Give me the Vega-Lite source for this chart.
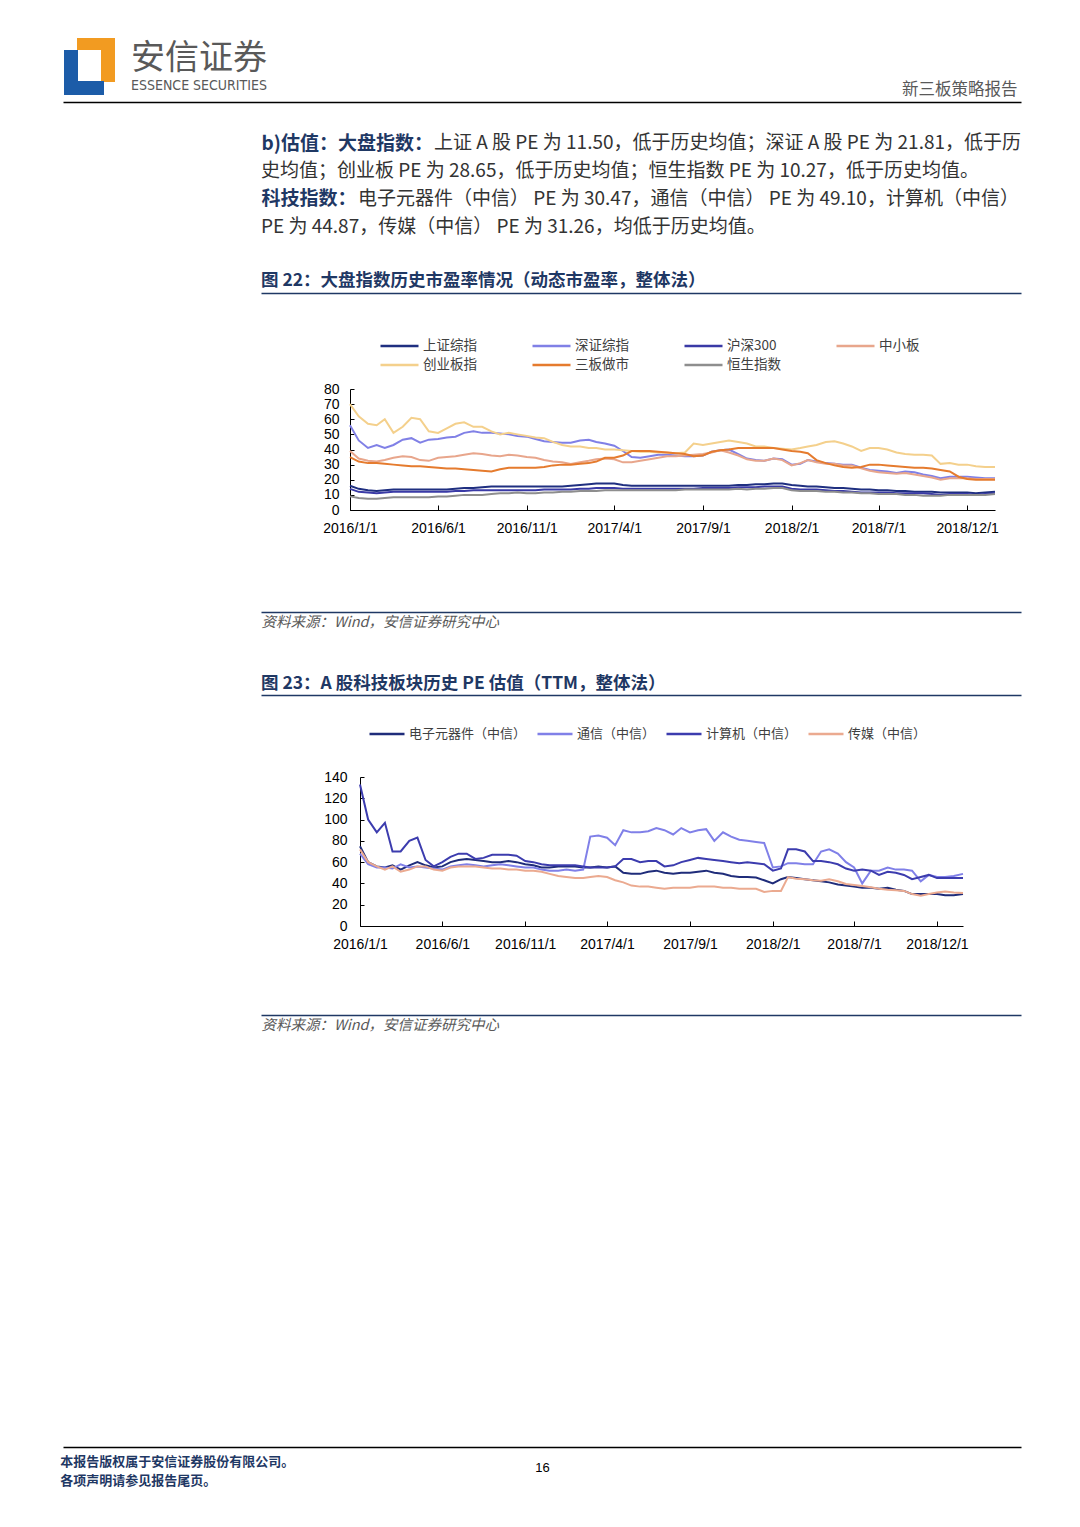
{
"$schema": "https://vega.github.io/schema/vega-lite/v6.json",
"background": "white",
"padding": {"left": 60, "top": 38, "right": 0, "bottom": 0},
"spacing": 0,
"bounds": "flush",
"resolve": {"scale": {"color": "independent"}, "legend": {"color": "independent"}},
"config": {"view": {"stroke": null}, "font": "Noto Sans CJK SC", "axis": {"grid": false}},
"datasets": {
"logo": [
{"c":"o","x0":14,"x1":52,"y0":0,"y1":12},
{"c":"o","x0":38,"x1":52,"y0":0,"y1":44},
{"c":"b","x0":1,"x1":15,"y0":12,"y1":57},
{"c":"b","x0":1,"x1":41,"y0":43,"y1":57}
],
"idx": [
{"d":"2016-01-01","上证综指":16,"深证综指":56,"沪深300":14,"中小板":39,"创业板指":70,"三板做市":35,"恒生指数":9},
{"d":"2016-01-16","上证综指":14,"深证综指":46,"沪深300":12,"中小板":34,"创业板指":62,"三板做市":32,"恒生指数":8},
{"d":"2016-02-01","上证综指":13,"深证综指":41,"沪深300":11.5,"中小板":32.5,"创业板指":57,"三板做市":31,"恒生指数":7.5},
{"d":"2016-02-16","上证综指":12.5,"深证综指":43,"沪深300":11,"中小板":32,"创业板指":56,"三板做市":31,"恒生指数":7.5},
{"d":"2016-03-01","上证综指":13,"深证综指":41,"沪深300":11.5,"中小板":33,"创业板指":60,"三板做市":30.5,"恒生指数":8},
{"d":"2016-03-16","上证综指":13.5,"深证综指":43,"沪深300":12,"中小板":34.5,"创业板指":51,"三板做市":30,"恒生指数":8.5},
{"d":"2016-04-01","上证综指":13.5,"深证综指":46.5,"沪深300":12,"中小板":35.5,"创业板指":55,"三板做市":29.5,"恒生指数":8.5},
{"d":"2016-04-16","上证综指":13.5,"深证综指":47.5,"沪深300":12,"中小板":35,"创业板指":61,"三板做市":29,"恒生指数":8.5},
{"d":"2016-05-01","上证综指":13.5,"深证综指":44.5,"沪深300":12,"中小板":33,"创业板指":60,"三板做市":29,"恒生指数":8.5},
{"d":"2016-05-16","上证综指":13.5,"深证综指":46.5,"沪深300":12,"中小板":32.5,"创业板指":52,"三板做市":28.5,"恒生指数":8.5},
{"d":"2016-06-01","上证综指":13.5,"深证综指":47,"沪深300":12,"中小板":34.5,"创业板指":51,"三板做市":28,"恒生指数":9},
{"d":"2016-06-16","上证综指":13.5,"深证综指":48,"沪深300":12,"中小板":35,"创业板指":54,"三板做市":27.5,"恒生指数":9},
{"d":"2016-07-01","上证综指":14,"深证综指":48.5,"沪深300":12.5,"中小板":35.5,"创业板指":57,"三板做市":27.5,"恒生指数":9.5},
{"d":"2016-07-16","上证综指":14.5,"深证综指":51,"沪深300":12.5,"中小板":36.5,"创业板指":58,"三板做市":27,"恒生指数":10},
{"d":"2016-08-01","上证综指":14.5,"深证综指":52,"沪深300":13,"中小板":37.5,"创业板指":55,"三板做市":26.5,"恒生指数":10},
{"d":"2016-08-16","上证综指":15,"深证综指":51,"沪深300":13,"中小板":37,"创业板指":55,"三板做市":26,"恒生指数":10},
{"d":"2016-09-01","上证综指":15.5,"深证综指":51,"沪深300":13,"中小板":36,"创业板指":52,"三板做市":25.5,"恒生指数":10.5},
{"d":"2016-09-16","上证综指":15.5,"深证综指":50.5,"沪深300":13,"中小板":35.5,"创业板指":50,"三板做市":27,"恒生指数":11},
{"d":"2016-10-01","上证综指":15.5,"深证综指":50,"沪深300":13,"中小板":36.5,"创业板指":51,"三板做市":28,"恒生指数":11},
{"d":"2016-10-16","上证综指":15.5,"深证综指":49,"沪深300":13,"中小板":36,"创业板指":50,"三板做市":28,"恒生指数":11.5},
{"d":"2016-11-01","上证综指":15.5,"深证综指":48.5,"沪深300":13,"中小板":35,"创业板指":49,"三板做市":28,"恒生指数":11},
{"d":"2016-11-16","上证综指":15.5,"深证综指":47,"沪深300":13,"中小板":34.5,"创业板指":48,"三板做市":28,"恒生指数":11},
{"d":"2016-12-01","上证综指":15.5,"深证综指":45.5,"沪深300":13.5,"中小板":33,"创业板指":47.5,"三板做市":28.5,"恒生指数":11.5},
{"d":"2016-12-16","上证综指":15.5,"深证综指":45,"沪深300":13.5,"中小板":32,"创业板指":45,"三板做市":29.5,"恒生指数":11.5},
{"d":"2017-01-01","上证综指":15.5,"深证综指":44.5,"沪深300":13.5,"中小板":31.5,"创业板指":43,"三板做市":30,"恒生指数":12},
{"d":"2017-01-16","上证综指":16,"深证综指":44.5,"沪深300":13.5,"中小板":30.5,"创业板指":42,"三板做市":30,"恒生指数":12},
{"d":"2017-02-01","上证综指":16.5,"深证综指":46,"沪深300":14,"中小板":31.5,"创业板指":42,"三板做市":30.5,"恒生指数":12.5},
{"d":"2017-02-16","上证综指":17,"深证综指":46.5,"沪深300":14,"中小板":32.5,"创业板指":41,"三板做市":31,"恒生指数":12.5},
{"d":"2017-03-01","上证综指":17.5,"深证综指":45,"沪深300":14.5,"中小板":33.5,"创业板指":41,"三板做市":32,"恒生指数":12.5},
{"d":"2017-03-16","上证综指":17.5,"深证综指":44,"沪深300":14.5,"中小板":34,"创业板指":40,"三板做市":34.5,"恒生指数":13},
{"d":"2017-04-01","上证综指":17.5,"深证综指":42.5,"沪深300":14.5,"中小板":33.5,"创业板指":40,"三板做市":34.5,"恒生指数":13},
{"d":"2017-04-16","上证综指":16.5,"深证综指":39,"沪深300":14,"中小板":31.5,"创业板指":39.5,"三板做市":36,"恒生指数":13},
{"d":"2017-05-01","上证综指":16,"深证综指":35,"沪深300":14,"中小板":31.5,"创业板指":39,"三板做市":39,"恒生指数":13},
{"d":"2017-05-16","上证综指":16,"深证综指":34.5,"沪深300":14,"中小板":32.5,"创业板指":38.5,"三板做市":39,"恒生指数":13},
{"d":"2017-06-01","上证综指":16,"深证综指":35.5,"沪深300":14,"中小板":33.5,"创业板指":38.5,"三板做市":39,"恒生指数":13},
{"d":"2017-06-16","上证综指":16,"深证综指":36.5,"沪深300":14,"中小板":34.5,"创业板指":38,"三板做市":38.5,"恒生指数":13},
{"d":"2017-07-01","上证综指":16,"深证综指":36.5,"沪深300":14,"中小板":35.5,"创业板指":38,"三板做市":38,"恒生指数":13},
{"d":"2017-07-16","上证综指":16,"深证综指":36,"沪深300":14,"中小板":35.5,"创业板指":37.5,"三板做市":37.5,"恒生指数":13},
{"d":"2017-08-01","上证综指":16,"深证综指":35.5,"沪深300":14,"中小板":36,"创业板指":38,"三板做市":37,"恒生指数":13.5},
{"d":"2017-08-16","上证综指":16,"深证综指":35.5,"沪深300":14,"中小板":36.5,"创业板指":44,"三板做市":35.5,"恒生指数":13.5},
{"d":"2017-09-01","上证综指":16,"深证综指":36,"沪深300":14.5,"中小板":37,"创业板指":43,"三板做市":36,"恒生指数":13.5},
{"d":"2017-09-16","上证综指":16,"深证综指":38.5,"沪深300":14.5,"中小板":38,"创业板指":44,"三板做市":38.5,"恒生指数":13.5},
{"d":"2017-10-01","上证综指":16,"深证综指":39.5,"沪深300":14.5,"中小板":39.5,"创业板指":45,"三板做市":39.5,"恒生指数":13.5},
{"d":"2017-10-16","上证综指":16,"深证综指":40,"沪深300":14.5,"中小板":38,"创业板指":46,"三板做市":40,"恒生指数":13.5},
{"d":"2017-11-01","上证综指":16.5,"深证综指":37,"沪深300":15,"中小板":36,"创业板指":45,"三板做市":41,"恒生指数":14},
{"d":"2017-11-16","上证综指":16.5,"深证综指":34,"沪深300":15,"中小板":33.5,"创业板指":44,"三板做市":41,"恒生指数":13.5},
{"d":"2017-12-01","上证综指":17,"深证综指":33,"沪深300":15,"中小板":32.5,"创业板指":42,"三板做市":41,"恒生指数":14},
{"d":"2017-12-16","上证综指":17,"深证综指":32.5,"沪深300":15.5,"中小板":32.5,"创业板指":42,"三板做市":41,"恒生指数":14},
{"d":"2018-01-01","上证综指":17.5,"深证综指":34,"沪深300":15.5,"中小板":34,"创业板指":41,"三板做市":41,"恒生指数":14.5},
{"d":"2018-01-16","上证综指":17.5,"深证综指":33.5,"沪深300":15.5,"中小板":33,"创业板指":40.5,"三板做市":40,"恒生指数":14.5},
{"d":"2018-02-01","上证综指":16.5,"深证综指":30,"沪深300":14,"中小板":29.5,"创业板指":40,"三板做市":39,"恒生指数":13},
{"d":"2018-02-16","上证综指":16,"深证综指":30.5,"沪深300":13.5,"中小板":31,"创业板指":41,"三板做市":38.5,"恒生指数":12.5},
{"d":"2018-03-01","上证综指":15.5,"深证综指":33,"沪深300":13.5,"中小板":33,"创业板指":42,"三板做市":37.5,"恒生指数":12.5},
{"d":"2018-03-16","上证综指":15.5,"深证综指":32,"沪深300":13.5,"中小板":31.5,"创业板指":43,"三板做市":33,"恒生指数":12.5},
{"d":"2018-04-01","上证综指":15,"深证综指":31,"沪深300":13,"中小板":30.5,"创业板指":45,"三板做市":31,"恒生指数":12},
{"d":"2018-04-16","上证综指":14.5,"深证综指":30.5,"沪深300":12.5,"中小板":30.5,"创业板指":45.5,"三板做市":29.5,"恒生指数":12},
{"d":"2018-05-01","上证综指":14.5,"深证综指":30,"沪深300":12.5,"中小板":29.5,"创业板指":44,"三板做市":28.5,"恒生指数":11.5},
{"d":"2018-05-16","上证综指":14,"深证综指":30,"沪深300":12,"中小板":29.5,"创业板指":42,"三板做市":28,"恒生指数":11.5},
{"d":"2018-06-01","上证综指":13.5,"深证综指":28,"沪深300":11.5,"中小板":27.5,"创业板指":39,"三板做市":28.5,"恒生指数":11},
{"d":"2018-06-16","上证综指":13.5,"深证综指":26.5,"沪深300":11.5,"中小板":26,"创业板指":41,"三板做市":30,"恒生指数":11},
{"d":"2018-07-01","上证综指":13,"深证综指":26,"沪深300":11.5,"中小板":25,"创业板指":41,"三板做市":30,"恒生指数":10.5},
{"d":"2018-07-16","上证综指":13,"深证综指":25.5,"沪深300":11.5,"中小板":24.5,"创业板指":40,"三板做市":29.5,"恒生指数":10.5},
{"d":"2018-08-01","上证综指":12.5,"深证综指":24.5,"沪深300":11,"中小板":24,"创业板指":38,"三板做市":29,"恒生指数":10.5},
{"d":"2018-08-16","上证综指":12.5,"深证综指":25.5,"沪深300":11,"中小板":24.5,"创业板指":37,"三板做市":28.5,"恒生指数":10},
{"d":"2018-09-01","上证综指":12,"深证综指":25,"沪深300":11,"中小板":23.5,"创业板指":36.5,"三板做市":28,"恒生指数":10},
{"d":"2018-09-16","上证综指":12,"深证综指":23.5,"沪深300":11,"中小板":22.5,"创业板指":36.5,"三板做市":28,"恒生指数":9.5},
{"d":"2018-10-01","上证综指":12,"深证综指":22.5,"沪深300":10.5,"中小板":21.5,"创业板指":36,"三板做市":27.5,"恒生指数":9.5},
{"d":"2018-10-16","上证综指":11.5,"深证综指":21,"沪深300":10,"中小板":20,"创业板指":30.5,"三板做市":26.5,"恒生指数":9.5},
{"d":"2018-11-01","上证综指":11.5,"深证综指":22,"沪深300":10.5,"中小板":21,"创业板指":31,"三板做市":25.5,"恒生指数":10},
{"d":"2018-11-16","上证综指":11.5,"深证综指":22,"沪深300":10.5,"中小板":21,"创业板指":30,"三板做市":22,"恒生指数":10},
{"d":"2018-12-01","上证综指":11.5,"深证综指":22,"沪深300":10.5,"中小板":21,"创业板指":30,"三板做市":20.5,"恒生指数":10},
{"d":"2018-12-16","上证综指":11,"深证综指":21.5,"沪深300":10,"中小板":20.5,"创业板指":29,"三板做市":20,"恒生指数":10},
{"d":"2019-01-01","上证综指":11.5,"深证综指":21,"沪深300":10.5,"中小板":20.5,"创业板指":28.5,"三板做市":20,"恒生指数":10},
{"d":"2019-01-18","上证综指":12,"深证综指":21,"沪深300":11,"中小板":20.5,"创业板指":28.5,"三板做市":20,"恒生指数":10.5}
],
"tech": [
{"d":"2016-01-01","电子元器件（中信）":75,"通信（中信）":68,"计算机（中信）":133,"传媒（中信）":72},
{"d":"2016-01-16","电子元器件（中信）":60,"通信（中信）":58,"计算机（中信）":100,"传媒（中信）":60},
{"d":"2016-02-01","电子元器件（中信）":56,"通信（中信）":55,"计算机（中信）":88,"传媒（中信）":56},
{"d":"2016-02-16","电子元器件（中信）":55,"通信（中信）":55,"计算机（中信）":97,"传媒（中信）":53},
{"d":"2016-03-01","电子元器件（中信）":57,"通信（中信）":54,"计算机（中信）":70,"传媒（中信）":56},
{"d":"2016-03-16","电子元器件（中信）":53,"通信（中信）":58,"计算机（中信）":70,"传媒（中信）":51},
{"d":"2016-04-01","电子元器件（中信）":57,"通信（中信）":55,"计算机（中信）":80,"传媒（中信）":53},
{"d":"2016-04-16","电子元器件（中信）":60,"通信（中信）":56,"计算机（中信）":83,"传媒（中信）":56},
{"d":"2016-05-01","电子元器件（中信）":57,"通信（中信）":55,"计算机（中信）":62,"传媒（中信）":56},
{"d":"2016-05-16","电子元器件（中信）":55,"通信（中信）":54,"计算机（中信）":56,"传媒（中信）":53},
{"d":"2016-06-01","电子元器件（中信）":56,"通信（中信）":53,"计算机（中信）":60,"传媒（中信）":52},
{"d":"2016-06-16","电子元器件（中信）":60,"通信（中信）":56,"计算机（中信）":65,"传媒（中信）":55},
{"d":"2016-07-01","电子元器件（中信）":62,"通信（中信）":57,"计算机（中信）":68,"传媒（中信）":56},
{"d":"2016-07-16","电子元器件（中信）":63,"通信（中信）":58,"计算机（中信）":68,"传媒（中信）":56},
{"d":"2016-08-01","电子元器件（中信）":62,"通信（中信）":57,"计算机（中信）":63,"传媒（中信）":56},
{"d":"2016-08-16","电子元器件（中信）":61,"通信（中信）":56,"计算机（中信）":64,"传媒（中信）":55},
{"d":"2016-09-01","电子元器件（中信）":60,"通信（中信）":57,"计算机（中信）":67,"传媒（中信）":54},
{"d":"2016-09-16","电子元器件（中信）":60,"通信（中信）":58,"计算机（中信）":67,"传媒（中信）":54},
{"d":"2016-10-01","电子元器件（中信）":61,"通信（中信）":57,"计算机（中信）":67,"传媒（中信）":53},
{"d":"2016-10-16","电子元器件（中信）":60,"通信（中信）":56,"计算机（中信）":66,"传媒（中信）":53},
{"d":"2016-11-01","电子元器件（中信）":58,"通信（中信）":55,"计算机（中信）":61,"传媒（中信）":52},
{"d":"2016-11-16","电子元器件（中信）":57,"通信（中信）":55,"计算机（中信）":60,"传媒（中信）":52},
{"d":"2016-12-01","电子元器件（中信）":55,"通信（中信）":53,"计算机（中信）":58,"传媒（中信）":51},
{"d":"2016-12-16","电子元器件（中信）":55,"通信（中信）":52,"计算机（中信）":57,"传媒（中信）":49},
{"d":"2017-01-01","电子元器件（中信）":56,"通信（中信）":52,"计算机（中信）":57,"传媒（中信）":47},
{"d":"2017-01-16","电子元器件（中信）":56,"通信（中信）":53,"计算机（中信）":57,"传媒（中信）":46},
{"d":"2017-02-01","电子元器件（中信）":56,"通信（中信）":52,"计算机（中信）":57,"传媒（中信）":45},
{"d":"2017-02-16","电子元器件（中信）":55,"通信（中信）":53,"计算机（中信）":56,"传媒（中信）":45},
{"d":"2017-03-01","电子元器件（中信）":55,"通信（中信）":84,"计算机（中信）":55,"传媒（中信）":46},
{"d":"2017-03-16","电子元器件（中信）":56,"通信（中信）":85,"计算机（中信）":55,"传媒（中信）":47},
{"d":"2017-04-01","电子元器件（中信）":55,"通信（中信）":83,"计算机（中信）":55,"传媒（中信）":46},
{"d":"2017-04-16","电子元器件（中信）":56,"通信（中信）":76,"计算机（中信）":56,"传媒（中信）":43},
{"d":"2017-05-01","电子元器件（中信）":50,"通信（中信）":90,"计算机（中信）":63,"传媒（中信）":41},
{"d":"2017-05-16","电子元器件（中信）":49,"通信（中信）":88,"计算机（中信）":63,"传媒（中信）":38},
{"d":"2017-06-01","电子元器件（中信）":49,"通信（中信）":88,"计算机（中信）":60,"传媒（中信）":37},
{"d":"2017-06-16","电子元器件（中信）":51,"通信（中信）":89,"计算机（中信）":61,"传媒（中信）":37},
{"d":"2017-07-01","电子元器件（中信）":52,"通信（中信）":92,"计算机（中信）":61,"传媒（中信）":36},
{"d":"2017-07-16","电子元器件（中信）":50,"通信（中信）":90,"计算机（中信）":56,"传媒（中信）":35},
{"d":"2017-08-01","电子元器件（中信）":49,"通信（中信）":86,"计算机（中信）":57,"传媒（中信）":36},
{"d":"2017-08-16","电子元器件（中信）":50,"通信（中信）":92,"计算机（中信）":60,"传媒（中信）":36},
{"d":"2017-09-01","电子元器件（中信）":50,"通信（中信）":88,"计算机（中信）":62,"传媒（中信）":36},
{"d":"2017-09-16","电子元器件（中信）":51,"通信（中信）":90,"计算机（中信）":64,"传媒（中信）":37},
{"d":"2017-10-01","电子元器件（中信）":52,"通信（中信）":91,"计算机（中信）":63,"传媒（中信）":37},
{"d":"2017-10-16","电子元器件（中信）":50,"通信（中信）":80,"计算机（中信）":62,"传媒（中信）":37},
{"d":"2017-11-01","电子元器件（中信）":49,"通信（中信）":88,"计算机（中信）":61,"传媒（中信）":36},
{"d":"2017-11-16","电子元器件（中信）":47,"通信（中信）":84,"计算机（中信）":60,"传媒（中信）":36},
{"d":"2017-12-01","电子元器件（中信）":46,"通信（中信）":81,"计算机（中信）":59,"传媒（中信）":35},
{"d":"2017-12-16","电子元器件（中信）":46,"通信（中信）":80,"计算机（中信）":60,"传媒（中信）":35},
{"d":"2018-01-01","电子元器件（中信）":45.5,"通信（中信）":79,"计算机（中信）":59,"传媒（中信）":35},
{"d":"2018-01-16","电子元器件（中信）":43,"通信（中信）":78,"计算机（中信）":58,"传媒（中信）":32},
{"d":"2018-02-01","电子元器件（中信）":40,"通信（中信）":55,"计算机（中信）":52,"传媒（中信）":33},
{"d":"2018-02-16","电子元器件（中信）":44,"通信（中信）":56,"计算机（中信）":54,"传媒（中信）":33},
{"d":"2018-03-01","电子元器件（中信）":46,"通信（中信）":59,"计算机（中信）":72,"传媒（中信）":46},
{"d":"2018-03-16","电子元器件（中信）":45,"通信（中信）":59,"计算机（中信）":72,"传媒（中信）":44.5},
{"d":"2018-04-01","电子元器件（中信）":44,"通信（中信）":58,"计算机（中信）":70,"传媒（中信）":44},
{"d":"2018-04-16","电子元器件（中信）":43,"通信（中信）":58,"计算机（中信）":61,"传媒（中信）":43},
{"d":"2018-05-01","电子元器件（中信）":42,"通信（中信）":70,"计算机（中信）":61,"传媒（中信）":42.5},
{"d":"2018-05-16","电子元器件（中信）":41,"通信（中信）":72,"计算机（中信）":60,"传媒（中信）":44},
{"d":"2018-06-01","电子元器件（中信）":39,"通信（中信）":68,"计算机（中信）":58,"传媒（中信）":42},
{"d":"2018-06-16","电子元器件（中信）":38,"通信（中信）":60,"计算机（中信）":54,"传媒（中信）":39.5},
{"d":"2018-07-01","电子元器件（中信）":37,"通信（中信）":55,"计算机（中信）":52,"传媒（中信）":38.5},
{"d":"2018-07-16","电子元器件（中信）":36,"通信（中信）":40,"计算机（中信）":53,"传媒（中信）":37.5},
{"d":"2018-08-01","电子元器件（中信）":36,"通信（中信）":52,"计算机（中信）":52,"传媒（中信）":36.5},
{"d":"2018-08-16","电子元器件（中信）":35,"通信（中信）":52,"计算机（中信）":48,"传媒（中信）":35},
{"d":"2018-09-01","电子元器件（中信）":36,"通信（中信）":55,"计算机（中信）":51,"传媒（中信）":34},
{"d":"2018-09-16","电子元器件（中信）":34,"通信（中信）":53,"计算机（中信）":50,"传媒（中信）":33.5},
{"d":"2018-10-01","电子元器件（中信）":33,"通信（中信）":53,"计算机（中信）":48,"传媒（中信）":33},
{"d":"2018-10-16","电子元器件（中信）":30,"通信（中信）":52,"计算机（中信）":44,"传媒（中信）":30},
{"d":"2018-11-01","电子元器件（中信）":30,"通信（中信）":42,"计算机（中信）":46,"传媒（中信）":28.5},
{"d":"2018-11-16","电子元器件（中信）":30,"通信（中信）":48,"计算机（中信）":48,"传媒（中信）":30},
{"d":"2018-12-01","电子元器件（中信）":30,"通信（中信）":46,"计算机（中信）":45,"传媒（中信）":31.5},
{"d":"2018-12-16","电子元器件（中信）":29,"通信（中信）":46,"计算机（中信）":45,"传媒（中信）":32.5},
{"d":"2019-01-01","电子元器件（中信）":29,"通信（中信）":47,"计算机（中信）":45,"传媒（中信）":31.5},
{"d":"2019-01-18","电子元器件（中信）":30,"通信（中信）":49,"计算机（中信）":45,"传媒（中信）":31}
]
},
"vconcat": [
{
"width": 958, "height": 64,
"data": {"name": "logo"},
"title": {"text": "安信证券", "subtitle": "ESSENCE SECURITIES", "anchor": "start", "dx": 68, "offset": -55, "fontSize": 34, "fontWeight": "normal", "color": "#595959", "font": "Noto Sans CJK SC", "subtitleFont": "DejaVu Sans Condensed, Liberation Sans", "subtitleFontSize": 14, "subtitleColor": "#595959", "subtitlePadding": 3},
"mark": {"type": "rect"},
"encoding": {
"x": {"field": "x0", "type": "quantitative", "scale": {"domain": [0, 958], "nice": false, "zero": false}, "axis": {"orient": "bottom", "labels": false, "ticks": false, "domainColor": "#000000", "domainWidth": 1.5, "title": "新三板策略报告", "titleX": 954, "titleAlign": "right", "titleY": -13, "titleBaseline": "middle", "titleFont": "Noto Sans CJK SC", "titleFontSize": 16.5, "titleFontWeight": "normal", "titleColor": "#595959"}},
"x2": {"field": "x1"},
"y": {"field": "y0", "type": "quantitative", "scale": {"domain": [0, 64], "reverse": true, "nice": false}, "axis": null},
"y2": {"field": "y1"},
"color": {"field": "c", "type": "nominal", "scale": {"domain": ["o", "b"], "range": ["#F29B21", "#1C5CA8"]}, "legend": null}
}
},
{
"width": 958, "height": 53.85,
"data": {"values": [{"k": 0}, {"k": 1}]},
"mark": {"type": "point", "opacity": 0},
"encoding": {"x": {"field": "k", "type": "quantitative", "scale": {"domain": [0, 1], "range": [198, 958]}, "axis": {"orient": "top", "domain": false, "labels": false, "ticks": false, "title": "b)估值：大盘指数：", "titleAnchor": "start", "titleAlign": "left", "titleBaseline": "top", "titleY": 32, "titleFont": "Noto Sans CJK SC", "titleFontSize": 19, "titleFontWeight": "bold", "titleColor": "#1F3864"}}},
"title": {"text": "上证 A 股 PE 为 11.50，低于历史均值；深证 A 股 PE 为 21.81，低于历", "anchor": "start", "dx": 371, "offset": -51.2, "fontSize": 19, "fontWeight": "normal", "color": "#333333"}
},
{
"width": 958, "height": 27.7,
"data": {"values": [{}]},
"mark": {"type": "point", "opacity": 0},
"title": {"text": "史均值；创业板 PE 为 28.65，低于历史均值；恒生指数 PE 为 10.27，低于历史均值。", "anchor": "start", "dx": 198, "offset": -25.05, "fontSize": 19, "fontWeight": "normal", "color": "#333333"}
},
{
"width": 958, "height": 27.7,
"data": {"values": [{"k": 0}, {"k": 1}]},
"mark": {"type": "point", "opacity": 0},
"encoding": {"x": {"field": "k", "type": "quantitative", "scale": {"domain": [0, 1], "range": [198, 958]}, "axis": {"orient": "top", "domain": false, "labels": false, "ticks": false, "title": "科技指数：", "titleAnchor": "start", "titleAlign": "left", "titleBaseline": "top", "titleY": 5.85, "titleFont": "Noto Sans CJK SC", "titleFontSize": 19, "titleFontWeight": "bold", "titleColor": "#1F3864"}}},
"title": {"text": "电子元器件（中信） PE 为 30.47，通信（中信） PE 为 49.10，计算机（中信）", "anchor": "start", "dx": 295, "offset": -25.05, "fontSize": 19, "fontWeight": "normal", "color": "#333333"}
},
{
"width": 958, "height": 80.75,
"data": {"values": [{}]},
"mark": {"type": "point", "opacity": 0},
"title": {"text": "PE 为 44.87，传媒（中信） PE 为 31.26，均低于历史均值。", "anchor": "start", "dx": 198, "offset": -25.05, "fontSize": 19, "fontWeight": "normal", "color": "#333333"}
},
{
"width": 958, "height": 96,
"data": {"values": [{"k": 0}, {"k": 1}]},
"mark": {"type": "point", "opacity": 0},
"encoding": {"x": {"field": "k", "type": "quantitative", "scale": {"domain": [0, 1], "range": [198, 958]}, "axis": {"orient": "top", "labels": false, "ticks": false, "title": null, "domainColor": "#1F3864", "domainWidth": 1.5}}},
"title": {"text": "图 22：大盘指数历史市盈率情况（动态市盈率，整体法）", "anchor": "start", "dx": 198, "offset": 4, "fontSize": 17.5, "fontWeight": "bold", "color": "#1F3864"}
},
{
"width": 958, "height": 121,
"data": {"name": "idx"},
"transform": [{"fold": ["上证综指", "深证综指", "沪深300", "中小板", "创业板指", "三板做市", "恒生指数"], "as": ["s", "v"]}],
"mark": {"type": "line", "strokeWidth": 2},
"encoding": {
"x": {"field": "d", "type": "temporal", "scale": {"type": "utc", "domain": [{"year": 2016, "month": 1, "date": 1, "utc": true}, {"year": 2019, "month": 1, "date": 18, "utc": true}], "range": [287, 932]},
"axis": {"values": [{"year": 2016, "month": 1, "date": 1, "utc": true}, {"year": 2016, "month": 6, "date": 1, "utc": true}, {"year": 2016, "month": 11, "date": 1, "utc": true}, {"year": 2017, "month": 4, "date": 1, "utc": true}, {"year": 2017, "month": 9, "date": 1, "utc": true}, {"year": 2018, "month": 2, "date": 1, "utc": true}, {"year": 2018, "month": 7, "date": 1, "utc": true}, {"year": 2018, "month": 12, "date": 1, "utc": true}], "format": "%Y/%-m/%-d", "title": null, "labelFont": "Liberation Sans", "labelFontSize": 14, "labelColor": "#000000", "domainColor": "#000000", "tickColor": "#000000", "tickSize": -5, "labelPadding": 16, "labelFlush": false, "labelOverlap": false}},
"y": {"field": "v", "type": "quantitative", "scale": {"domain": [0, 80]}, "axis": {"values": [0, 10, 20, 30, 40, 50, 60, 70, 80], "offset": -287, "title": null, "labelFont": "Liberation Sans", "labelFontSize": 14, "labelColor": "#000000", "domainColor": "#000000", "tickColor": "#000000", "tickSize": -4, "labelPadding": 15}},
"color": {"field": "s", "type": "nominal", "scale": {"domain": ["上证综指", "深证综指", "沪深300", "中小板", "创业板指", "三板做市", "恒生指数"], "range": ["#1F2F80", "#8080E6", "#3A3AA6", "#E8A68C", "#F4D08C", "#E57B2E", "#8E8E8E"]},
"legend": {"orient": "none", "legendX": 316, "legendY": -51, "direction": "horizontal", "columns": 4, "columnPadding": 54, "rowPadding": 3, "clipHeight": 16, "symbolType": "stroke", "symbolSize": 1444, "symbolStrokeWidth": 2.5, "labelFont": "Noto Sans CJK SC", "labelFontSize": 13.5, "labelColor": "#404040", "labelOffset": 3, "title": null}}
}
},
{
"width": 958, "height": 185,
"data": {"values": [{"k": 0}, {"k": 1}]},
"mark": {"type": "point", "opacity": 0},
"encoding": {"x": {"field": "k", "type": "quantitative", "scale": {"domain": [0, 1], "range": [198, 958]}, "axis": {"orient": "bottom", "offset": -83, "labels": false, "ticks": false, "domainColor": "#1F3864", "domainWidth": 1.5, "title": "资料来源：Wind，安信证券研究中心", "titleAnchor": "start", "titlePadding": 3, "titleFont": "Noto Sans CJK SC", "titleFontSize": 14.5, "titleFontStyle": "italic", "titleFontWeight": "normal", "titleColor": "#595959"}}}
},
{
"width": 958, "height": 82,
"data": {"values": [{"k": 0}, {"k": 1}]},
"mark": {"type": "point", "opacity": 0},
"encoding": {"x": {"field": "k", "type": "quantitative", "scale": {"domain": [0, 1], "range": [198, 958]}, "axis": {"orient": "top", "labels": false, "ticks": false, "title": null, "domainColor": "#1F3864", "domainWidth": 1.5}}},
"title": {"text": "图 23：A 股科技板块历史 PE 估值（TTM，整体法）", "anchor": "start", "dx": 198, "offset": 3, "fontSize": 17.5, "fontWeight": "bold", "color": "#1F3864"}
},
{
"width": 958, "height": 149,
"data": {"name": "tech"},
"transform": [{"fold": ["电子元器件（中信）", "通信（中信）", "计算机（中信）", "传媒（中信）"], "as": ["s", "v"]}],
"mark": {"type": "line", "strokeWidth": 2},
"encoding": {
"x": {"field": "d", "type": "temporal", "scale": {"type": "utc", "domain": [{"year": 2016, "month": 1, "date": 1, "utc": true}, {"year": 2019, "month": 1, "date": 18, "utc": true}], "range": [297, 900]},
"axis": {"values": [{"year": 2016, "month": 1, "date": 1, "utc": true}, {"year": 2016, "month": 6, "date": 1, "utc": true}, {"year": 2016, "month": 11, "date": 1, "utc": true}, {"year": 2017, "month": 4, "date": 1, "utc": true}, {"year": 2017, "month": 9, "date": 1, "utc": true}, {"year": 2018, "month": 2, "date": 1, "utc": true}, {"year": 2018, "month": 7, "date": 1, "utc": true}, {"year": 2018, "month": 12, "date": 1, "utc": true}], "format": "%Y/%-m/%-d", "title": null, "labelFont": "Liberation Sans", "labelFontSize": 14, "labelColor": "#000000", "domainColor": "#000000", "tickColor": "#000000", "tickSize": -5, "labelPadding": 16, "labelFlush": false, "labelOverlap": false}},
"y": {"field": "v", "type": "quantitative", "scale": {"domain": [0, 140]}, "axis": {"values": [0, 20, 40, 60, 80, 100, 120, 140], "offset": -297, "title": null, "labelFont": "Liberation Sans", "labelFontSize": 14, "labelColor": "#000000", "domainColor": "#000000", "tickColor": "#000000", "tickSize": -4, "labelPadding": 17}},
"color": {"field": "s", "type": "nominal", "scale": {"domain": ["电子元器件（中信）", "通信（中信）", "计算机（中信）", "传媒（中信）"], "range": ["#1F2C7A", "#8080E8", "#3C3CAE", "#EBAA90"]},
"legend": {"orient": "none", "legendX": 305, "legendY": -51, "direction": "horizontal", "columns": 4, "columnPadding": 9, "clipHeight": 16, "symbolType": "stroke", "symbolSize": 1225, "symbolStrokeWidth": 2.5, "labelFont": "Noto Sans CJK SC", "labelFontSize": 13, "labelColor": "#404040", "labelOffset": 3, "title": null}}
}
},
{
"width": 958, "height": 520,
"data": {"values": [{"k": 0}, {"k": 1}]},
"mark": {"type": "point", "opacity": 0},
"encoding": {"x": {"field": "k", "type": "quantitative", "scale": {"domain": [0, 1], "range": [198, 958]}, "axis": {"orient": "bottom", "offset": -431, "labels": false, "ticks": false, "domainColor": "#1F3864", "domainWidth": 1.5, "title": "资料来源：Wind，安信证券研究中心", "titleAnchor": "start", "titlePadding": 3, "titleFont": "Noto Sans CJK SC", "titleFontSize": 14.5, "titleFontStyle": "italic", "titleFontWeight": "normal", "titleColor": "#595959"}}}
},
{
"width": 958, "height": 1,
"data": {"values": [{"k": 0}, {"k": 1}]},
"mark": {"type": "point", "opacity": 0},
"encoding": {"x": {"field": "k", "type": "quantitative", "scale": {"domain": [0, 1]}, "axis": {"orient": "bottom", "labels": false, "ticks": false, "domainColor": "#000000", "domainWidth": 1.5, "title": "16", "titlePadding": 14, "titleFont": "Liberation Sans", "titleFontSize": 13, "titleFontWeight": "normal", "titleColor": "#000000"}}},
"title": {"text": ["本报告版权属于安信证券股份有限公司。", "各项声明请参见报告尾页。"], "anchor": "start", "offset": -44, "fontSize": 13, "lineHeight": 19, "fontWeight": "bold", "color": "#1F3864"}
}
]
}
